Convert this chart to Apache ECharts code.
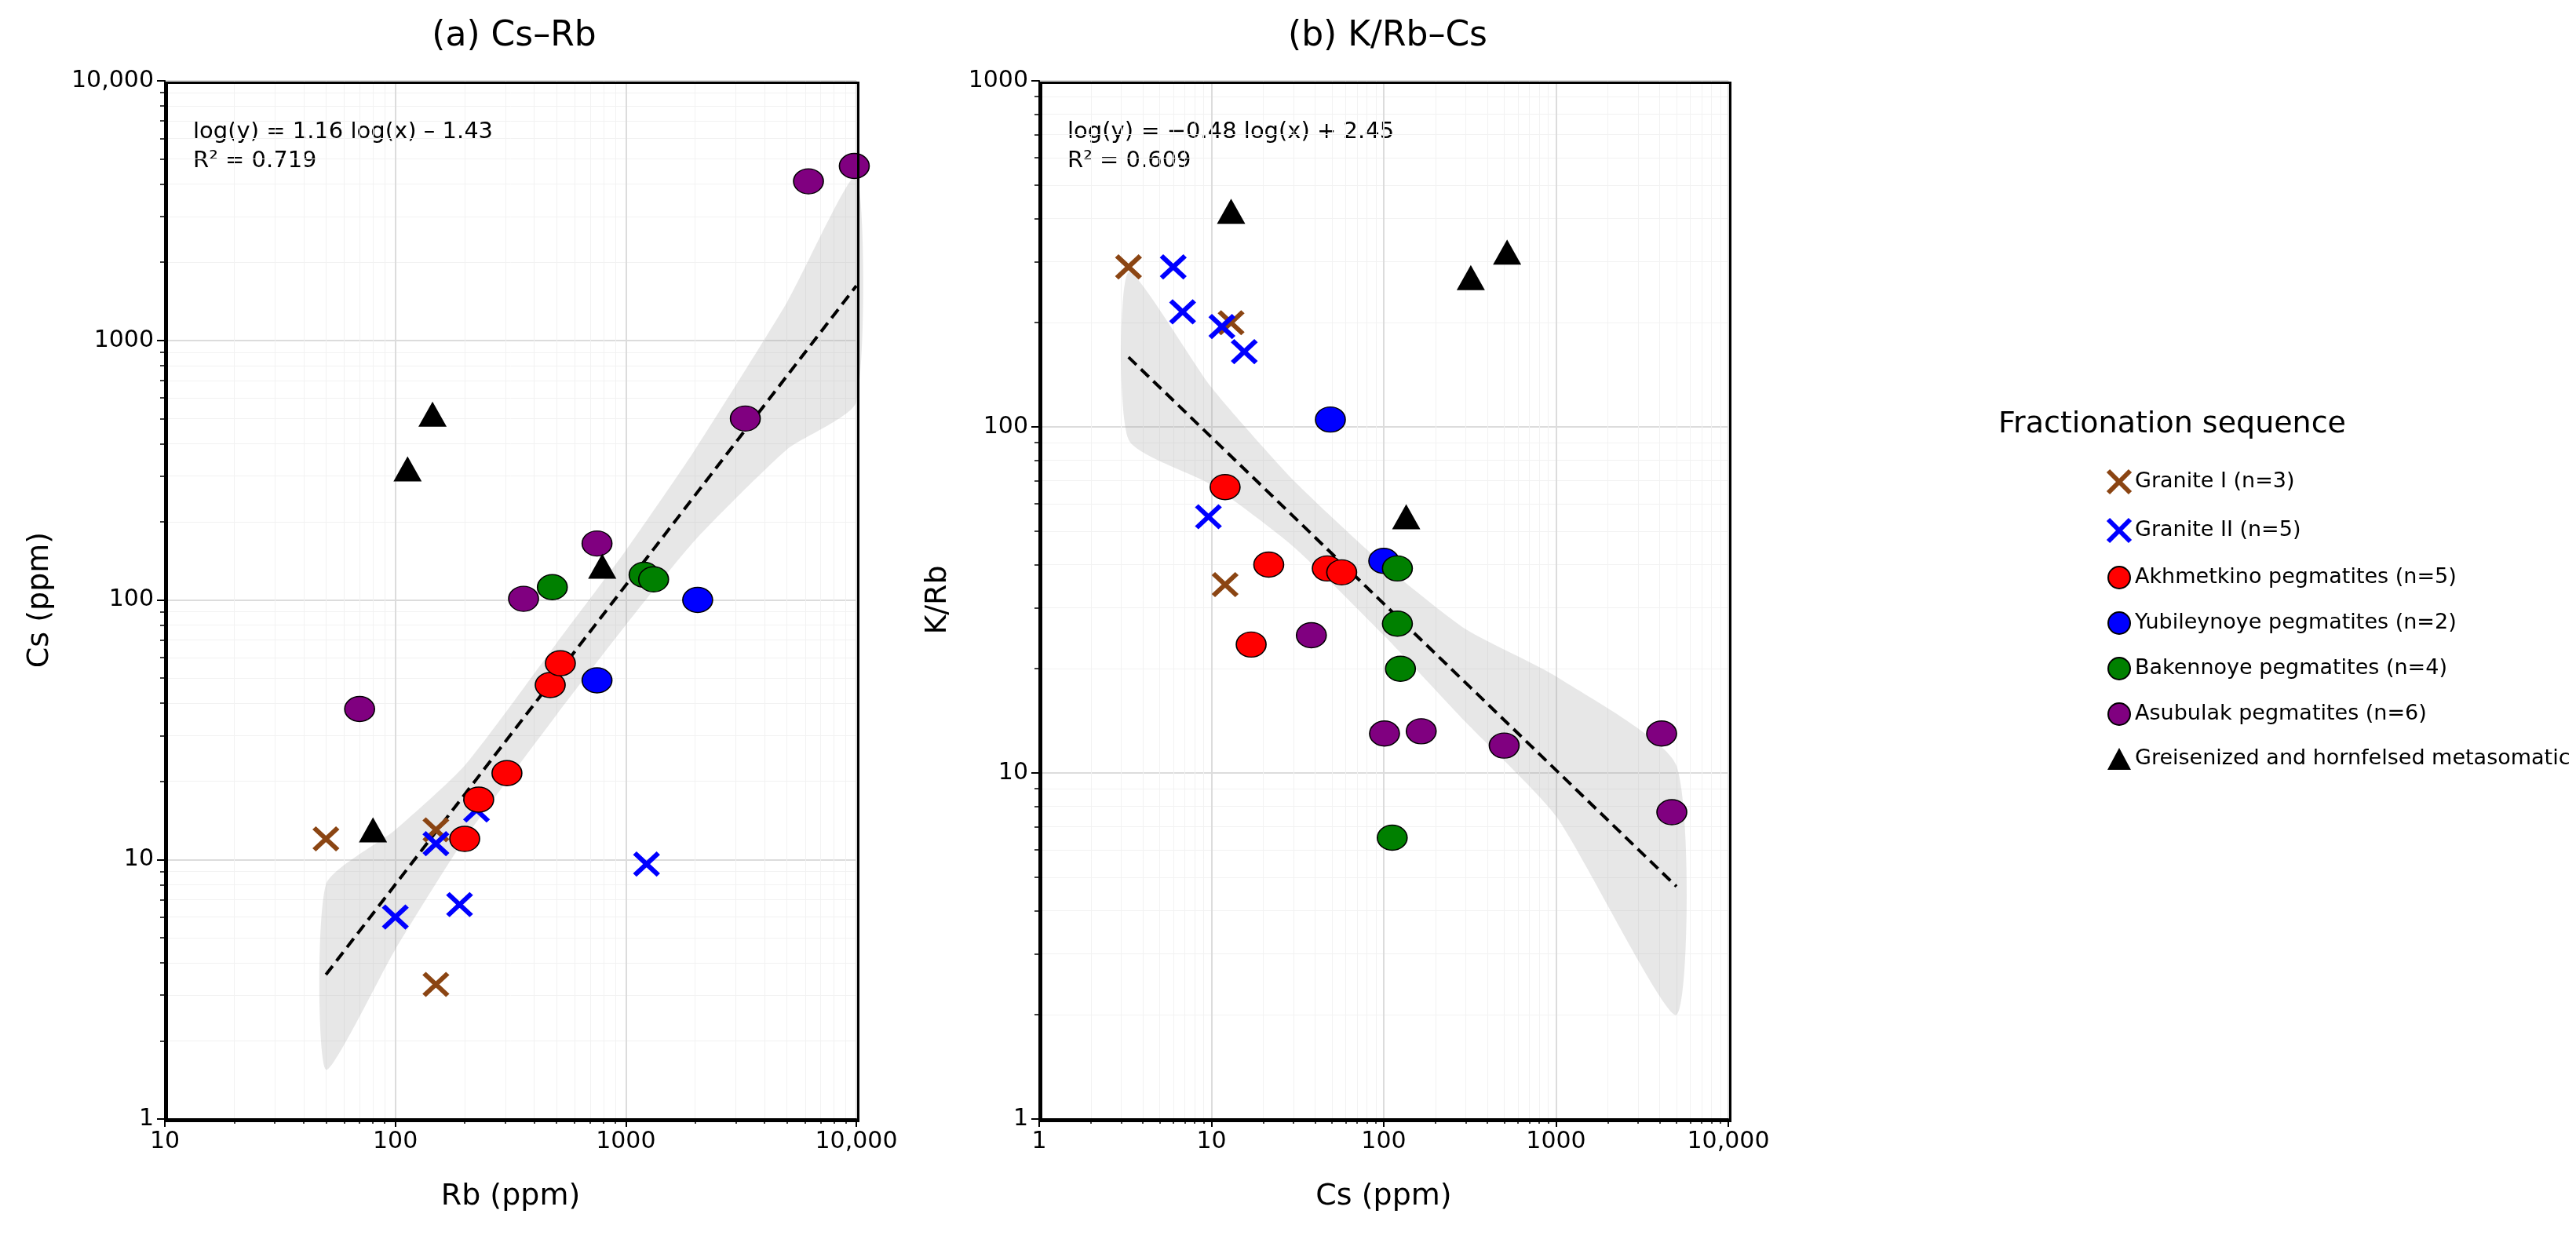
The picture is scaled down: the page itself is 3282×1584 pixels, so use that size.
<!DOCTYPE html>
<html><head><meta charset="utf-8">
<script src="https://cdn.jsdelivr.net/npm/echarts@6/dist/echarts.min.js"></script>
<style>html,body{margin:0;padding:0;background:#fff}#container{width:3282px;height:1584px}</style>
</head><body><div id="container"></div>
<script>
// panel (a): Rb vs Cs
var graniteIA = [[50, 12], [150, 13], [150, 3.3]];
var graniteIIA = [[100, 6], [150, 11.5], [190, 6.7], [225, 15.5], [1230, 9.6]];
var akhmetkinoA = [[200, 12], [230, 17], [305, 21.5], [470, 47], [520, 57]];
var yubileynoyeA = [[750, 49], [2050, 100]];
var bakennoyeA = [[480, 112], [1200, 125], [1320, 120]];
var asubulakA = [[70, 38], [360, 101], [750, 165], [3300, 500], [6200, 4100], [9800, 4700]];
var greisenA = [[80, 13], [113, 320], [145, 520], [790, 135]];
var fitA = [[50, 3.6], [10000, 1622]];
var bandXA = [50, 100, 200, 500, 1000, 2000, 5000, 10000];
var bandLoA = [1.55, 4.5, 12, 36, 80, 170, 380, 580];
var bandHiA = [8, 13, 23, 68, 155, 380, 1400, 4300];

// panel (b): Cs vs K/Rb
var graniteIB = [[3.3, 290], [13, 200], [12, 35]];
var graniteIIB = [[6, 290], [6.8, 215], [11.5, 195], [15.5, 165], [9.6, 55]];
var akhmetkinoB = [[12, 67], [21.5, 40], [17, 23.5], [47, 39], [57, 38]];
var yubileynoyeB = [[49, 105], [100, 41]];
var bakennoyeB = [[120, 39], [120, 27], [125, 20], [112, 6.5]];
var asubulakB = [[38, 25], [101, 13], [165, 13.2], [500, 12], [4100, 13], [4700, 7.7]];
var greisenB = [[13, 420], [320, 270], [520, 320], [135, 55]];
var fitB = [[3.3, 159], [5000, 4.7]];
var bandXB = [3.3, 10, 30, 100, 300, 1000, 5000];
var bandLoB = [92, 68, 45, 25, 14, 7.5, 2.0];
var bandHiB = [280, 130, 70, 40, 26, 19, 10.5];

var names = ['Granite I (n=3)', 'Granite II (n=5)', 'Akhmetkino pegmatites (n=5)', 'Yubileynoye pegmatites (n=2)',
  'Bakennoye pegmatites (n=4)', 'Asubulak pegmatites (n=6)', 'Greisenized and hornfelsed metasomatic rocks (n=4)'];
var colors = ['#8B4513', '#0000FF', '#FF0000', '#0000FF', '#008000', '#800080', '#000000'];

var font = 'DejaVu Sans';
var crossPath = 'path://M0,0L10,10M10,0L0,10';
var grids = [
  { left: 210, top: 103, width: 881, height: 1323 },
  { left: 1324, top: 103, width: 878, height: 1323 }
];

function axis(idx, name, min, max, gap) {
  return {
    type: 'log', logBase: 10, min: min, max: max, gridIndex: idx,
    name: name, nameLocation: 'middle', nameGap: gap,
    nameTextStyle: { fontSize: 38, fontFamily: font, color: '#000' },
    axisLine: { show: true, lineStyle: { color: '#000', width: 2 } },
    axisTick: { show: true, length: 10, lineStyle: { color: '#000', width: 2 } },
    minorTick: { show: true, splitNumber: 9, length: 6, lineStyle: { color: '#000', width: 1.5 } },
    axisLabel: { fontSize: 30, fontFamily: font, color: '#000', margin: 14,
      formatter: function (v) { return v >= 10000 ? v.toLocaleString('en-US') : String(v); } },
    splitLine: { show: true, lineStyle: { color: '#dcdcdc', width: 2 } },
    minorSplitLine: { show: true, lineStyle: { color: '#f2f2f2', width: 1 } }
  };
}

function band(idx, xs, lo, hi) {
  return {
    type: 'custom', xAxisIndex: idx, yAxisIndex: idx, silent: true, z: 1,
    data: [0],
    renderItem: function (params, api) {
      var pts = [];
      for (var i = 0; i < xs.length; i++) pts.push(api.coord([xs[i], hi[i]]));
      for (var j = xs.length - 1; j >= 0; j--) pts.push(api.coord([xs[j], lo[j]]));
      return { type: 'polygon', shape: { points: pts, smooth: 0.2 }, style: { fill: 'rgba(160,160,160,0.25)', stroke: 'none' } };
    }
  };
}

function groupSeries(idx, sets) {
  return sets.map(function (d, i) {
    var s = { type: 'scatter', name: names[i], xAxisIndex: idx, yAxisIndex: idx, data: d, z: 3 };
    if (i < 2) {
      s.symbol = crossPath; s.symbolSize = [30, 28];
      s.itemStyle = { color: 'transparent', borderColor: colors[i], borderWidth: 6, opacity: 1 };
    } else if (i === 6) {
      s.symbol = 'triangle'; s.symbolSize = [36, 32];
      s.itemStyle = { color: '#000', opacity: 1 };
    } else {
      s.symbol = 'circle'; s.symbolSize = [38, 32];
      s.itemStyle = { color: colors[i], borderColor: '#000', borderWidth: 1.5, opacity: 1 };
    }
    return s;
  });
}

function fitLine(idx, d) {
  return { type: 'line', xAxisIndex: idx, yAxisIndex: idx, data: d, symbol: 'none', z: 2, silent: true,
    lineStyle: { color: '#000', width: 4, type: [14, 8] } };
}

var chart = echarts.init(document.getElementById('container'));
var series = [band(0, bandXA, bandLoA, bandHiA), fitLine(0, fitA)]
  .concat(groupSeries(0, [graniteIA, graniteIIA, akhmetkinoA, yubileynoyeA, bakennoyeA, asubulakA, greisenA]))
  .concat([band(1, bandXB, bandLoB, bandHiB), fitLine(1, fitB)])
  .concat(groupSeries(1, [graniteIB, graniteIIB, akhmetkinoB, yubileynoyeB, bakennoyeB, asubulakB, greisenB]));

var frames = grids.map(function (g) {
  return { type: 'rect', left: g.left, top: g.top, z: 100, silent: true,
    shape: { width: g.width, height: g.height }, style: { fill: 'none', stroke: '#000', lineWidth: 3 } };
});

chart.setOption({
  backgroundColor: '#fff',
  animation: false,
  title: [
    { text: '(a) Cs–Rb', left: 650, top: 20, textAlign: 'center', textStyle: { fontSize: 44, fontWeight: 'normal', fontFamily: font, color: '#000' } },
    { text: '(b) K/Rb–Cs', left: 1763, top: 20, textAlign: 'center', textStyle: { fontSize: 44, fontWeight: 'normal', fontFamily: font, color: '#000' } }
  ],
  grid: grids,
  xAxis: [axis(0, 'Rb (ppm)', 10, 10000, 80), axis(1, 'Cs (ppm)', 1, 10000, 80)],
  yAxis: [axis(0, 'Cs (ppm)', 1, 10000, 140), axis(1, 'K/Rb', 1, 1000, 110)],
  legend: {
    data: names.map(function (n, i) {
      return { name: n, icon: i < 2 ? crossPath : (i === 6 ? 'triangle' : 'circle'),
        itemStyle: i < 2 ? { color: 'transparent', borderColor: colors[i], borderWidth: 6 } : undefined };
    }),
    orient: 'vertical', left: 2678, top: 592, itemGap: 28, itemWidth: 30, itemHeight: 28,
    textStyle: { fontSize: 27, fontFamily: font, color: '#000' }
  },
  graphic: frames.concat([
    { type: 'text', left: 2546, top: 522, style: { text: 'Fractionation sequence', fontSize: 38, fontFamily: font, fill: '#000' } },
    { type: 'text', left: 246, top: 150, style: { text: 'log(y) = 1.16 log(x) – 1.43\nR² = 0.719', fontSize: 29, lineHeight: 37, fontFamily: font, fill: '#000', backgroundColor: 'rgba(255,255,255,0.8)' } },
    { type: 'text', left: 1360, top: 150, style: { text: 'log(y) = −0.48 log(x) + 2.45\nR² = 0.609', fontSize: 29, lineHeight: 37, fontFamily: font, fill: '#000', backgroundColor: 'rgba(255,255,255,0.8)' } }
  ]),
  series: series
});
</script></body></html>
